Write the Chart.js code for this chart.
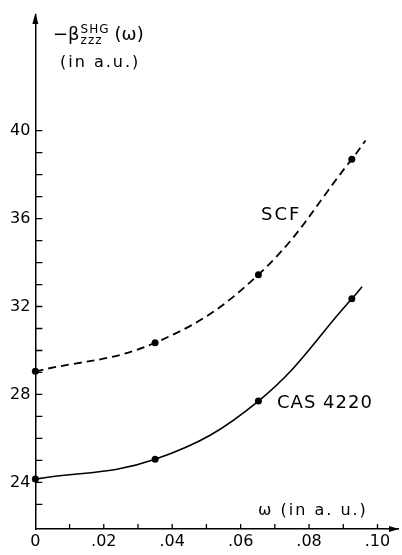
<!DOCTYPE html>
<html>
<head>
<meta charset="utf-8">
<script src="https://cdn.jsdelivr.net/npm/chart.js@4/dist/chart.umd.min.js"></script>
<style>
  body { margin: 0; background: #fff; }
  #wrap { position: relative; width: 402px; height: 555px; }
  .lbl { position: absolute; font-family: "DejaVu Sans", sans-serif; color: #000; line-height: 1; white-space: nowrap; }
  .ss { display: inline-block; vertical-align: middle; line-height: 0.9; font-size: 12px; letter-spacing: 1px; margin: 0 5px 0 1px; }
</style>
</head>
<body>
<div id="wrap">
  <canvas id="grafica" width="402" height="555"></canvas>
  <div class="lbl" style="left:53px;top:24px;font-size:18px;">−β<span class="ss">SHG<br>zzz</span>(ω)</div>
  <div class="lbl" style="left:60px;top:54px;font-size:16px;letter-spacing:2px;">(in a.u.)</div>
  <div class="lbl" style="left:258px;top:502px;font-size:16px;letter-spacing:2px;">ω (in a. u.)</div>
  <div class="lbl" style="left:261px;top:205px;font-size:18px;letter-spacing:2px;">SCF</div>
  <div class="lbl" style="left:277px;top:393px;font-size:18px;letter-spacing:1px;">CAS 4220</div>
</div>
<script>
// omega values (a.u.) of the computed points
const omega = [0, 0.035, 0.0652, 0.0925];
// -beta zzz SHG values
const scfValues = [29.05, 30.35, 33.45, 38.7];
const casValues = [24.15, 25.05, 27.7, 32.35];
// where the drawn curves stop, past the last point
const scfEnd = [0.0965, 39.55];
const casEnd = [0.0955, 32.9];

const xTicks = [0, 0.02, 0.04, 0.06, 0.08, 0.10];
const xTickLabels = ["0", ".02", ".04", ".06", ".08", ".10"];
const yTicks = [24, 28, 32, 36, 40];
const xMinor = [0.01, 0.02, 0.03, 0.04, 0.05, 0.06, 0.07, 0.08, 0.09, 0.10];
const yMinor = [23, 24, 25, 26, 27, 28, 29, 30, 31, 32, 33, 34, 35, 36, 37, 38, 39, 40];

function curve(values, end) {
  const pts = omega.map((w, i) => ({ x: w, y: values[i] }));
  pts.push({ x: end[0], y: end[1] });
  return pts;
}

const radii = omega.map(() => 3.5).concat([0]);

const tickMarks = {
  id: "tickMarks",
  afterDraw(chart) {
    const ctx = chart.ctx;
    const x = chart.scales.x;
    const y = chart.scales.y;
    ctx.save();
    ctx.strokeStyle = "#000";
    ctx.lineWidth = 1.3;
    ctx.beginPath();
    yMinor.forEach(v => {
      const py = y.getPixelForValue(v);
      ctx.moveTo(x.left, py);
      ctx.lineTo(x.left + 7, py);
    });
    xMinor.forEach(v => {
      const px = x.getPixelForValue(v);
      ctx.moveTo(px, y.bottom);
      ctx.lineTo(px, y.bottom - 5);
    });
    ctx.stroke();

    // arrow heads
    ctx.fillStyle = "#000";
    ctx.beginPath();
    ctx.moveTo(x.left, y.top - 2);
    ctx.lineTo(x.left - 3, y.top + 9);
    ctx.lineTo(x.left + 3, y.top + 9);
    ctx.closePath();
    ctx.fill();
    ctx.beginPath();
    ctx.moveTo(x.right + 1, y.bottom);
    ctx.lineTo(x.right - 9, y.bottom - 3);
    ctx.lineTo(x.right - 9, y.bottom + 3);
    ctx.closePath();
    ctx.fill();
    ctx.restore();
  }
};

const config = {
  type: "line",
  data: {
    datasets: [
      {
        label: "SCF",
        data: curve(scfValues, scfEnd),
        borderColor: "#000",
        backgroundColor: "#000",
        borderWidth: 1.8,
        borderDash: [8, 5],
        pointRadius: radii,
        pointBorderWidth: 0,
        tension: 0.4,
        clip: false
      },
      {
        label: "CAS 4220",
        data: curve(casValues, casEnd),
        borderColor: "#000",
        backgroundColor: "#000",
        borderWidth: 1.6,
        pointRadius: radii,
        pointBorderWidth: 0,
        tension: 0.4,
        clip: false
      }
    ]
  },
  options: {
    responsive: false,
    animation: false,
    layout: { padding: { left: 5, top: 15, right: 2, bottom: 0 } },
    plugins: { legend: { display: false }, tooltip: { enabled: false } },
    scales: {
      x: {
        type: "linear",
        min: 0,
        max: 0.106,
        afterBuildTicks: axis => { axis.ticks = xTicks.map(v => ({ value: v })); },
        ticks: {
          autoSkip: false,
          maxRotation: 0,
          padding: 5,
          color: "#000",
          font: { family: "DejaVu Sans", size: 16, lineHeight: 1 },
          callback: (v, i) => xTickLabels[i]
        },
        grid: { drawOnChartArea: false, drawTicks: false },
        border: { color: "#000", width: 1.5 }
      },
      y: {
        type: "linear",
        min: 21.88,
        max: 45.26,
        afterBuildTicks: axis => { axis.ticks = yTicks.map(v => ({ value: v })); },
        ticks: {
          autoSkip: false,
          padding: 5,
          color: "#000",
          font: { family: "DejaVu Sans", size: 16 }
        },
        grid: { drawOnChartArea: false, drawTicks: false },
        border: { color: "#000", width: 1.5 }
      }
    }
  },
  plugins: [tickMarks]
};

new Chart(document.getElementById("grafica"), config);
</script>
</body>
</html>
